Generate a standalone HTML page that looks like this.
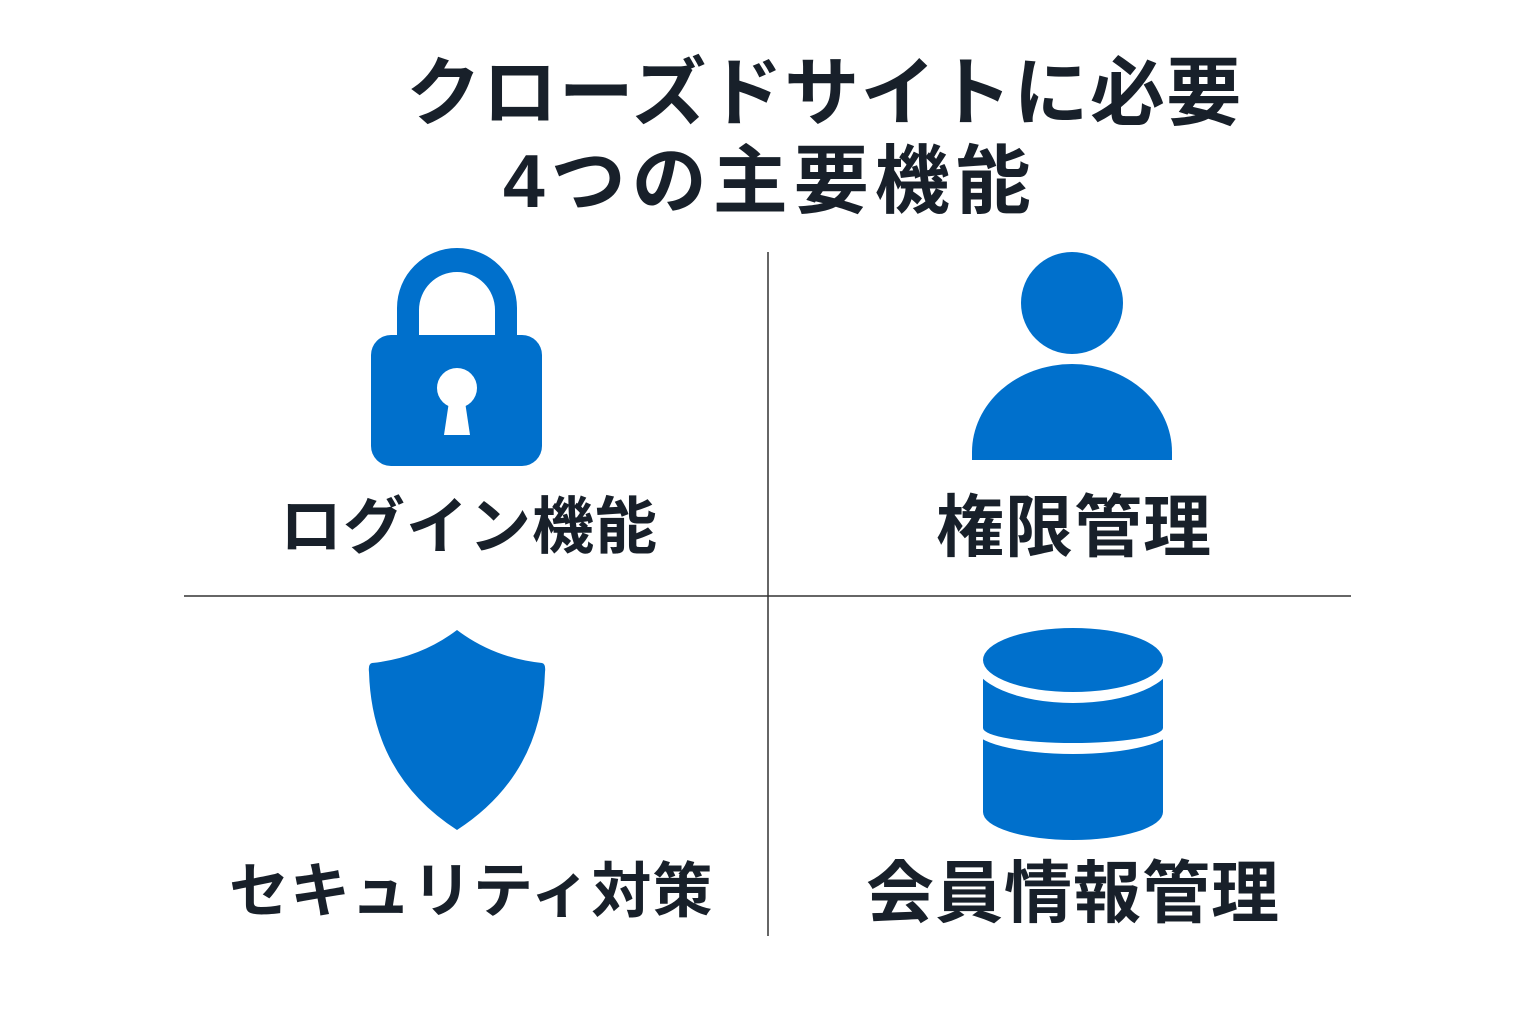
<!DOCTYPE html>
<html><head><meta charset="utf-8"><style>
html,body{margin:0;padding:0;background:#fff}
body{width:1536px;height:1024px;position:relative;overflow:hidden;font-family:"Liberation Sans","Noto Sans CJK JP",sans-serif;color:#18202a;font-weight:bold}
.t{position:absolute;white-space:nowrap;line-height:1}
</style></head><body>
<div class="t" style="left:406px;top:56px;font-size:75px;letter-spacing:1.4px">クローズドサイトに必要</div>
<div class="t" style="left:503px;top:144px;font-size:75px;letter-spacing:6px">4つの主要機能</div>
<div class="t" style="left:280px;top:497px;font-size:62px;letter-spacing:1px">ログイン機能</div>
<div class="t" style="left:936px;top:494px;font-size:68px;letter-spacing:1px">権限管理</div>
<div class="t" style="left:229px;top:862px;font-size:60px;letter-spacing:1px">セキュリティ対策</div>
<div class="t" style="left:866px;top:860px;font-size:68px;letter-spacing:1px">会員情報管理</div>
<svg width="1536" height="1024" style="position:absolute;left:0;top:0">
<line x1="768" y1="252" x2="768" y2="936" stroke="#333" stroke-width="1.5"/>
<line x1="184" y1="596" x2="1351" y2="596" stroke="#333" stroke-width="1.5"/>
<g fill="#0070cc">
<path d="M397 340 V308 A60 60 0 0 1 517 308 V340 H495 V310 A38 38 0 0 0 419 310 V340 Z"/>
<rect x="371" y="335" width="171" height="131" rx="20"/>
<circle cx="1072" cy="303" r="51"/>
<path d="M972 460 V452 A100 88 0 0 1 1172 452 V460 Z"/>
<path d="M457 630 Q420 658 372 663 Q368 664 369 672 Q372 775 457 830 Q542 775 545 672 Q546 664 542 663 Q494 658 457 630 Z"/>
<rect x="983" y="728" width="180" height="84"/>
<ellipse cx="1073" cy="812" rx="90" ry="28"/>
</g>
<circle cx="457" cy="388" r="20" fill="#fff"/>
<path d="M450 395 L444 435 H470 L464 395 Z" fill="#fff"/>
<ellipse cx="1073" cy="728" rx="100" ry="26" fill="#fff"/>
<g fill="#0070cc">
<rect x="983" y="660" width="180" height="68"/>
<ellipse cx="1073" cy="728" rx="90" ry="15"/>
</g>
<ellipse cx="1073" cy="660" rx="100" ry="43" fill="#fff"/>
<ellipse cx="1073" cy="660" rx="90" ry="32" fill="#0070cc"/>
</svg>
</body></html>
